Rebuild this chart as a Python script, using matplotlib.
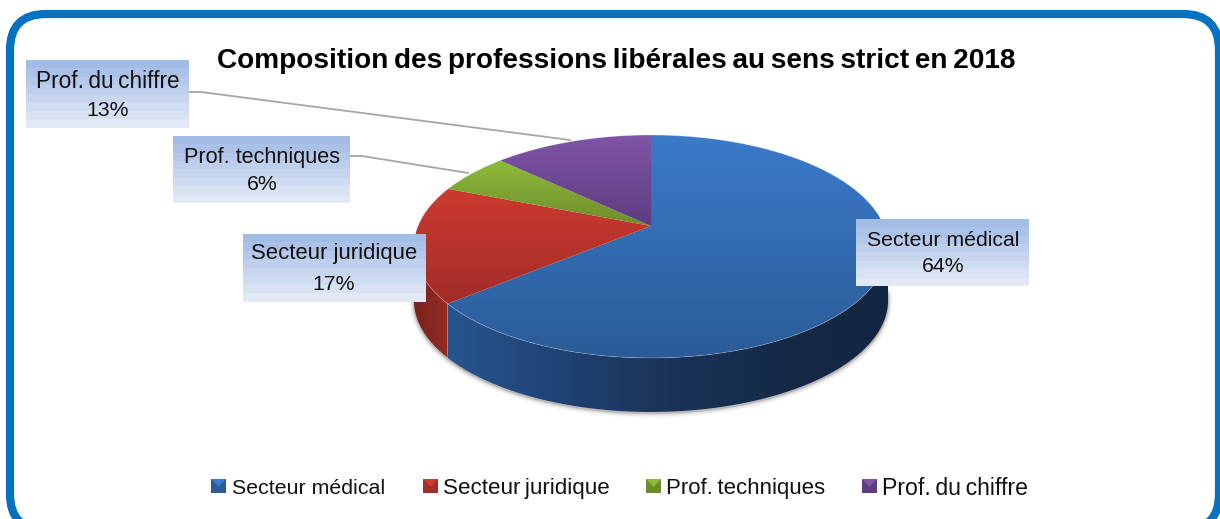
import numpy as np
import matplotlib
matplotlib.use("Agg")
import matplotlib.pyplot as plt
from matplotlib.patches import FancyBboxPatch, Polygon, Rectangle
from matplotlib.colors import LinearSegmentedColormap

plt.rcParams['font.family'] = ['Liberation Sans', 'DejaVu Sans']
T = "\u2009"  # the reference sets these word gaps very tight

title = f"Composition{T}des{T}professions{T}libérales{T}au{T}sens{T}strict{T}en{T}2018"
categories = ["Secteur médical", "Secteur juridique", "Prof. techniques", "Prof. du chiffre"]
values = [64, 17, 6, 13]
pct_labels = ["64%", "17%", "6%", "13%"]
label_names = ["Secteur médical", "Secteur juridique", "Prof. techniques", f"Prof.{T}du{T}chiffre"]
legend_names = ["Secteur médical", f"Secteur{T}juridique", f"Prof.{T}techniques", f"Prof.{T}du{T}chiffre"]
top_light = ["#3b7ac9", "#cc3a30", "#90bb3a", "#7f55a6"]
top_dark = ["#2b5c98", "#a32c28", "#6d8c2c", "#5d3c80"]

W, H = 1220, 519
fig = plt.figure(figsize=(W/100, H/100), dpi=100)
ax = fig.add_axes([0, 0, 1, 1])
ax.axis('off')

def fix_view():
    ax.set_xlim(0, W); ax.set_ylim(H, 0)
fix_view()

def grad_fill(poly, colors, horizontal=False, z=3):
    """Fill a polygon with a linear gradient clipped to its outline."""
    p = Polygon(poly, fc='none', ec='none', zorder=z)
    ax.add_patch(p)
    x0, x1 = poly[:, 0].min(), poly[:, 0].max()
    y0, y1 = poly[:, 1].min(), poly[:, 1].max()
    cmap = LinearSegmentedColormap.from_list("g", colors)
    g = np.linspace(0, 1, 256)
    g = g[None, :] if horizontal else g[:, None]
    im = ax.imshow(g, extent=(x0, x1, y1, y0), cmap=cmap, aspect='auto', zorder=z, vmin=0, vmax=1)
    im.set_clip_path(p)
    fix_view()

# Frame
ax.add_patch(FancyBboxPatch((10, 14), 1209, 516, boxstyle="round,pad=0,rounding_size=36",
                            fc="white", ec="#0571c1", lw=5.9, zorder=1))

ax.text(616, 60.5, title, ha='center', va='center', fontsize=20.2, fontweight='bold', color='black', zorder=6)

# Perspective projection of the pie disc
cx, cy = 651, 226
k, a, b = 0.184, 233.0, 107.7
depth = 54

def rim(theta_deg):
    t = np.radians(np.asarray(theta_deg, float))
    u, v = np.cos(t), np.sin(t)
    d = 1 + k*v
    return np.column_stack([cx + a*u/d, cy - b*v/d])

edges = 90 - 3.6*np.r_[0, np.cumsum(values)]
vis_a = np.degrees(np.arcsin(k))
vis_lo, vis_hi = -180 + vis_a, -vis_a

# Soft shadow under the pie
base = rim(np.linspace(vis_lo - 4, vis_hi + 4, 240)) + [0, depth]
for lw, al in [(7, .04), (5, .06), (3, .10), (1.5, .18)]:
    ax.plot(base[:, 0], base[:, 1] + 1, color='#333333', lw=lw, alpha=al, zorder=1.5, solid_capstyle='round')

# Leader lines
ax.plot([189, 201, 570], [92, 92, 140], color="#a6a6a6", lw=1.3, zorder=2)
ax.plot([350, 362, 468], [156, 156, 173], color="#a6a6a6", lw=1.3, zorder=2)

# Side walls: visible only on the near half of the rim
side_cols = {0: ["#27558f", "#1f4375", "#1a3357", "#152a48", "#132640"],
             1: ["#7a221e", "#952b25"]}
for i in side_cols:
    hi, lo = edges[i], edges[i+1]
    lo2, hi2 = max(lo, vis_lo), min(hi, vis_hi)
    if hi2 <= lo2:
        continue
    r = rim(np.linspace(lo2, hi2, 160))
    poly = np.vstack([r, (r + [0, depth])[::-1]])
    grad_fill(poly, side_cols[i], horizontal=True, z=2.5)

# Top faces
for i in range(len(values)):
    r = rim(np.linspace(edges[i], edges[i+1], 240))
    poly = np.vstack([[cx, cy], r])
    grad_fill(poly, [top_light[i], top_dark[i]], z=3)
    ax.plot(r[:, 0], r[:, 1], color='white', lw=0.6, alpha=.25, zorder=3.1)

# Data labels on stepped gradient boxes
boxes = [(856, 219, 1029, 286, 943), (243, 234, 426, 302, 334),
         (173, 136, 350, 203, 262), (26, 60, 189, 128, 108)]
label_y = [(240.5, 267), (254, 284), (157, 185), (82, 110)]
label_size = [15.3, 15.9, 15.6, 16.3]
box_cmap = LinearSegmentedColormap.from_list("b", ["#a3bce6", "#e2e9f6"])
for (x0, y0, x1, y1, tx), (y_a, y_b), fs, c, p in zip(boxes, label_y, label_size, label_names, pct_labels):
    ax.imshow(np.linspace(0, 1, 8)[:, None], extent=(x0, x1, y1, y0), cmap=box_cmap,
              aspect='auto', zorder=5, vmin=0, vmax=1, interpolation='nearest')
    ax.text(tx, y_a, c, ha='center', va='center', fontsize=fs, zorder=6, color='#111111')
    ax.text(tx, y_b, p, ha='center', va='center', fontsize=15.3, zorder=6, color='#111111')
fix_view()

# Legend with bevelled keys
leg_x = [211, 423, 646, 862]
text_x = [232, 443, 666, 882]
leg_size = [15.4, 16.1, 16.0, 16.6]
for lx, tx, fs, c, hi_c, lo_c in zip(leg_x, text_x, leg_size, legend_names, top_light, top_dark):
    ax.add_patch(Rectangle((lx, 479), 15, 13.5, fc=lo_c, ec='none', zorder=6))
    ax.add_patch(Polygon([(lx, 479), (lx+15, 479), (lx+7.5, 487)], fc=hi_c, ec='none', zorder=6.1))
    ax.text(tx, 488.5, c, ha='left', va='center', fontsize=fs, color='#111111', zorder=6)

fig.savefig("out.png", dpi=100)
